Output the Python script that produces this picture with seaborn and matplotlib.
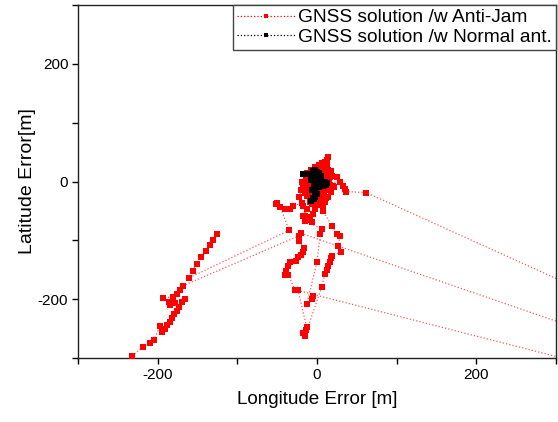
import matplotlib
matplotlib.use("Agg")
import matplotlib.pyplot as plt
import matplotlib.ticker as mticker
from matplotlib.lines import Line2D
import pandas as pd
import seaborn as sns

# Anti-Jam trace, split in pieces (seg) where the fix jumps off the plot
aj_x = [
    -125, -130, -134, -139, -145, -151, -156, -161, -35, -46, -50, -51, -46, -40, -34, -30,
    -19, -17, -13, -15, -18, -9, -13, -15, -18, -19, -15, -12, -5, -2, 2, 6, 10, 14, 12, 8,
    4, 0, -4, -8, -10, -6, -2, 2, 6, 10, 14, 16, 14, 12, 8, 4, 0, -4, -7, -4, 0, 4, 8, 12,
    10, 6, 2, -2, -6, -10, -12, -8, -3, 3, 6, 8, -2.5, -5, 0, 5, 9, 13, 16, 20, 25, 16, 29,
    33, 35, 37, 62, 400, 500, 400, -20, -23, -16, -18, -20, -24, -26, -34, -36, -39, -40,
    -36, -27.6, 400,
    -24, -13, -14, -18, -15, 6, 10, 12, 14, 16, 18, 19, 30, 26, 29, 25, 19, 7.5, 10, 7.5,
    -2.5, -5, -11, -9, -6, -15, 6, 4, 0, -13, -6, -5,
    -22, -168, -172, -176, -181, -193, -186, -184, -178, -166, -169, -173, -176, -179, -182,
    -185, -188, -191, -194, -197, -205, -210, -218, -232,
    -16, -11, -7, -3, 1, 5, 9, 13, 17, 19, 15, 11, 7, 3, -1, -5, -9, -13, -17, -14, -10, -6,
    -2, 2, 6, 10, 14, 18, 21, 12, 8, 4, 0, -4, -8, -12, -10, -6, 1, 7, 11, 15, -20, -22,
]
aj_y = [
    -90, -100, -108, -118, -129, -140, -152, -164, -83, -44, -36, -38, -44, -47, -47, -42,
    -36, -42, -47, -59, -59, -34, -25, -19, -8, 0, 12, 15, 20, 24, 28, 32, 34, 42, 36, 30,
    22, 18, 12, 6, -2, -10, -14, -8, -2, 4, 10, 8, 20, 14, 10, 6, 2, -4, -16, -22, -27, -20,
    -14, -8, -2, 4, 12, 8, 0, -8, -14, -24, -30, -32, -36, -44, -44, -38, -34, -28, -22, -14,
    -6, -8, 7, 12, 0, -8, -13, -17, -19, -226, -300, -284, -88, -101, -113, -120, -125, -128,
    -135, -137, -144, -152, -159, -159, -184, -332,
    -184, -247, -253, -258, -262, -179, -157, -150, -143, -137, -130, -126, -120, -110, -93,
    -89, -76, -50, -34, -42, -47, -56, -65, -61, -69, -67, -81, -90, -137, -209, -199, -194,
    -92, -177, -184, -192, -196, -198, -204, -210, -207, -200, -205, -214, -220, -226, -232,
    -238, -244, -250, -255, -245, -270, -275, -281, -296,
    -4, 2, 8, 14, 20, 26, 30, 26, 18, 10, 4, -2, -8, -14, -20, -26, -30, -24, -14, 6, 0, -6,
    -12, -18, -24, -30, -26, -18, -10, 24, 16, 10, 4, -2, 20, 4, -18, -36, -40, -34, -28, 14,
    -14, -26,
]
aj_seg = [0] * 104 + [1] * 32 + [2] * 24 + [3] * 44

# normal antenna trace
na_x = [
    -17, -14, -11, -8, -5, -3, 0, 3, 5, 2, -2, -5, -7, -4, 0, 3, 6, 10, 13, 11,
    7, 3, -1, -4, -6, -3, 0, -2, -5, -7, -4, -1, 2, 4, 1, -2, -6, -3, 1, -2,
]
na_y = [
    12, 12, 12, 13, 18, 20, 16, 14, 10, 6, 4, 8, 2, -2, 0, -4, -2, 0, -3, -6,
    -8, -10, -12, -8, -14, -18, -22, -26, -28, -33, -30, -16, -6, 2, 10, 14, 10, 6, -3, -6,
]

aj = pd.DataFrame({"lon": aj_x, "lat": aj_y, "seg": aj_seg})
na = pd.DataFrame({"lon": na_x, "lat": na_y, "seg": 0})

sns.set_theme(style="ticks")
plt.rcParams["font.family"] = ["Liberation Sans", "DejaVu Sans"]
plt.rcParams["text.color"] = "black"
plt.rcParams["axes.labelcolor"] = "black"

fig = plt.figure(figsize=(5.58, 4.22), dpi=100)
ax = fig.add_axes([0.1398, 0.1517, 0.8566, 0.8364])

# red trace (line + fixes) first, normal antenna on top of it
sns.lineplot(data=aj, x="lon", y="lat", units="seg", estimator=None, sort=False,
             color="#ff5a5a", linestyle=":", linewidth=0.9, zorder=2, ax=ax)
sns.scatterplot(data=aj, x="lon", y="lat", color="red", marker="s", s=13, linewidth=0,
                zorder=3, ax=ax)
sns.lineplot(data=na, x="lon", y="lat", units="seg", estimator=None, sort=False,
             color="#333333", linestyle=":", linewidth=0.9, zorder=4, ax=ax)
sns.scatterplot(data=na, x="lon", y="lat", color="black", marker="s", s=17, linewidth=0,
                zorder=5, ax=ax)

ax.set_xlim(-300, 300)
ax.set_ylim(-300, 300)
ax.xaxis.set_major_locator(mticker.MultipleLocator(100))
ax.yaxis.set_major_locator(mticker.MultipleLocator(100))
only200 = mticker.FuncFormatter(lambda v, p: f"{v:.0f}" if round(v) % 200 == 0 and abs(v) < 300 else "")
ax.xaxis.set_major_formatter(only200)
ax.yaxis.set_major_formatter(only200)
ax.tick_params(direction="out", length=4, width=1, labelsize=11, colors="black", pad=3)

for s in ax.spines.values():
    s.set_visible(True)
    s.set_linewidth(1)
    s.set_color("#222222")

ax.set_xlabel("Longitude Error [m]", fontsize=13.6, labelpad=7)
ax.set_ylabel("Latitude Error[m]", fontsize=14, labelpad=1)

handles = [
    Line2D([], [], color="red", linestyle=":", linewidth=0.9, marker="s", markersize=3, markeredgewidth=0),
    Line2D([], [], color="black", linestyle=":", linewidth=0.9, marker="s", markersize=3, markeredgewidth=0),
]
leg = ax.legend(handles, ["GNSS solution /w Anti-Jam", "GNSS solution /w Normal ant."],
                loc="upper right", borderaxespad=0, fontsize=13.8, frameon=True, fancybox=False,
                edgecolor="#444444", framealpha=1, handlelength=3.0, handletextpad=0.2,
                borderpad=0.2, labelspacing=0.12)
leg.set_zorder(10)

fig.savefig("out.png", dpi=100)
